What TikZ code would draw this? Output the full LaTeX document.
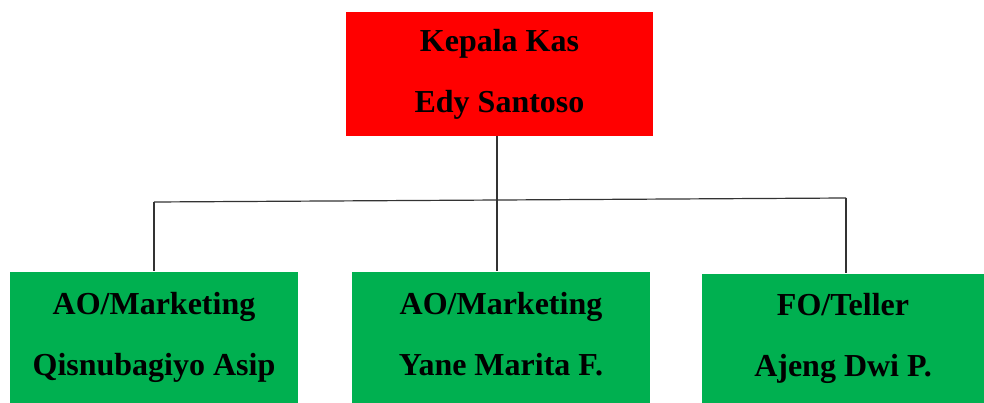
\documentclass[tikz,border=0pt]{standalone}
\usepackage{fontspec}
\setmainfont{Liberation Serif}
\usepackage{tikz}
\usetikzlibrary{positioning}
\definecolor{kasred}{HTML}{FF0000}
\definecolor{staffgreen}{HTML}{00B050}
\tikzset{
  box/.style={rectangle,inner sep=0pt,align=center,
    font=\fontsize{32}{61}\selectfont\bfseries},
  headbox/.style={box,fill=kasred,minimum width=307pt,minimum height=124pt},
  staffbox/.style={box,fill=staffgreen,minimum height=131pt},
  link/.style={draw=black!80,line width=1.2pt}
}
\begin{document}
\begin{tikzpicture}[x=1pt,y=-1pt]
    \useasboundingbox (0,0) rectangle (984,403);

    \node[headbox] (kepala) at (499.5,74) {Kepala Kas\\Edy Santoso};
    \node[staffbox,minimum width=288pt] (ao1) at (154,337) {AO/Marketing\\Qisnubagiyo Asip};
    \node[staffbox,minimum width=298pt] (ao2) at (501,337) {AO/Marketing\\Yane Marita F.\vphantom{y}};
    \node[staffbox,minimum width=282pt,minimum height=129pt] (fo) at (843,338) {FO/Teller\\Ajeng Dwi P.};

    \coordinate (jl) at (154,202);
    \coordinate (jm) at (497,200);
    \coordinate (jr) at (846,198);

    \draw[link] (jm |- kepala.south) -- (jm);
    \draw[link] (jl) -- (jr);
    \draw[link] (jl) -- (jl |- ao1.north);
    \draw[link] (jm) -- (jm |- ao2.north);
    \draw[link] (jr) -- (jr |- fo.north);
\end{tikzpicture}
\end{document}
